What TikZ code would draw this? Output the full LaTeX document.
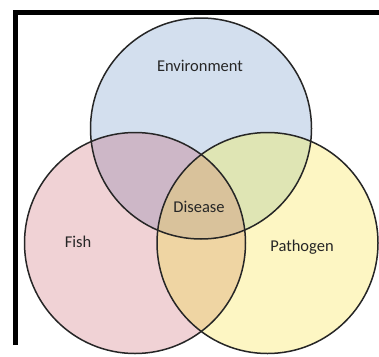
\documentclass[tikz,border=0pt]{standalone}
\usepackage{fontspec}
\setmainfont{Carlito}
\definecolor{cenv}{HTML}{D3DFEE}
\definecolor{cfish}{HTML}{F0D2D5}
\definecolor{cpath}{HTML}{FDF6C3}
\definecolor{cef}{HTML}{CDB7C7}
\definecolor{cep}{HTML}{DFE5B4}
\definecolor{cfp}{HTML}{EFD5A3}
\definecolor{call}{HTML}{D9C29B}
\tikzset{
  ring/.style={circle,draw=black!85,line width=1.5pt,inner sep=0pt,minimum size=221pt},
  lab/.style={font=\fontsize{16.5}{18}\selectfont,text=black!85,inner sep=0pt}
}
\begin{document}
\begin{tikzpicture}[x=1pt,y=-1pt]
\useasboundingbox (0,0) rectangle (379,356);
\fill[white] (0,0) rectangle (379,356);
% base fills
\fill[cenv] (201,128.5) circle (110.5);
\fill[cfish] (135,243) circle (110.5);
\fill[cpath] (267.5,243) circle (110.5);
\begin{scope}
  \clip (201,128.5) circle (110.5);
  \fill[cef] (135,243) circle (110.5);
  \fill[cep] (267.5,243) circle (110.5);
\end{scope}
\begin{scope}
  \clip (135,243) circle (110.5);
  \fill[cfp] (267.5,243) circle (110.5);
\end{scope}
\begin{scope}
  \clip (201,128.5) circle (110.5);
  \clip (135,243) circle (110.5);
  \fill[call] (267.5,243) circle (110.5);
\end{scope}
% outlines
\node[ring] (env) at (201,128.5) {};
\node[ring] (fish) at (135,243) {};
\node[ring] (path) at (267.5,243) {};
% labels
\node[lab] (tenv) at (200,66) {Environment};
\node[lab] (tfish) at (78,242) {Fish};
\node[lab] (tpath) at (302,247) {Pathogen};
\node[lab] (tdis) at (199,207) {Disease};
% frame
\draw[line width=5pt] (15,345) -- (15,12) -- (381,12);
\end{tikzpicture}
\end{document}
